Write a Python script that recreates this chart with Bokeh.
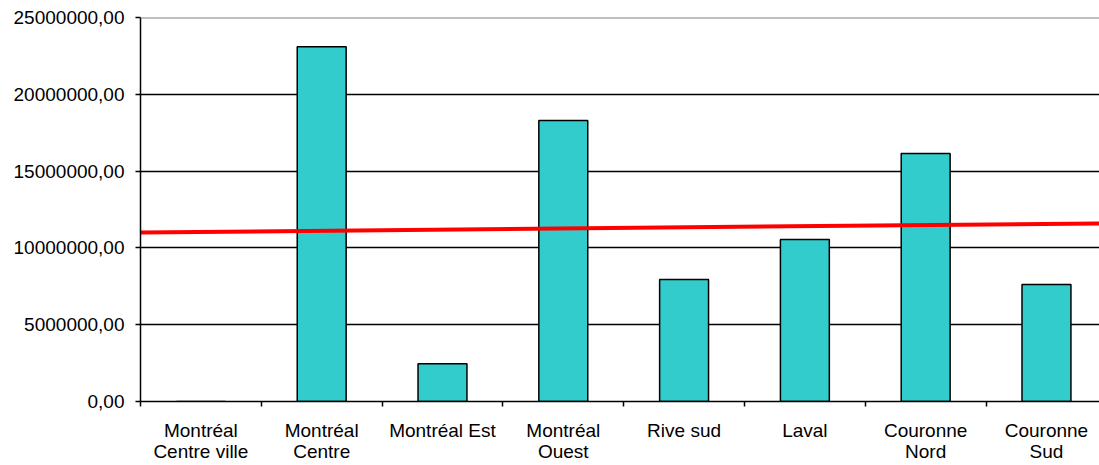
from bokeh.plotting import figure
from bokeh.models import Range1d, FixedTicker, Span
from bokeh.embed import file_html
from bokeh.resources import INLINE

# ---- data ----
categories = ["Montréal\nCentre ville", "Montréal\nCentre", "Montréal Est", "Montréal\nOuest",
              "Rive sud", "Laval", "Couronne\nNord", "Couronne\nSud"]
values = [0, 23100000, 2450000, 18300000, 7950000, 10550000, 16150000, 7620000]
trend_x = [0, 8]
trend_y = [11000000, 11600000]
y_ticks = [0, 5000000, 10000000, 15000000, 20000000, 25000000]
y_tick_labels = ["0,00", "5000000,00", "10000000,00", "15000000,00", "20000000,00", "25000000,00"]

FONT = "Liberation Sans"

p = figure(frame_width=959, frame_height=384, output_backend="svg", toolbar_location=None,
           x_range=Range1d(0, 7.939), y_range=Range1d(0, 25000000),
           min_border_left=140, min_border_right=0, min_border_top=17, min_border_bottom=10)
p.background_fill_color = "white"
p.border_fill_color = "white"
p.outline_line_color = None

centers = [i + 0.5 for i in range(len(categories))]
p.vbar(x=centers, top=values, width=0.405, fill_color="#33CCCC",
       line_color="black", line_width=1.5)

p.line(trend_x, trend_y, line_color="#FF0000", line_width=4)

# grid
p.xgrid.visible = False
p.ygrid.ticker = FixedTicker(ticks=y_ticks[1:-1])
p.ygrid.grid_line_color = "black"
p.ygrid.grid_line_width = 1.4
p.ygrid.level = "underlay"
top_line = Span(location=y_ticks[-1], dimension="width", line_color="#808080", line_width=2)
p.add_layout(top_line)

# y axis
p.yaxis.ticker = FixedTicker(ticks=y_ticks)
p.yaxis.major_label_overrides = {t: l for t, l in zip(y_ticks, y_tick_labels)}
p.yaxis.minor_tick_line_color = None
p.yaxis.major_tick_in = 0
p.yaxis.major_tick_out = 5
p.yaxis.axis_line_color = "black"
p.yaxis.axis_line_width = 1.5
p.yaxis.major_tick_line_width = 1.5
p.yaxis.major_label_standoff = 11
p.yaxis.major_label_text_font = FONT
p.yaxis.major_label_text_font_size = "19px"
p.yaxis.major_label_text_color = "black"

# x axis: labels at centres, ticks at category boundaries
p.xaxis.ticker = FixedTicker(ticks=centers, minor_ticks=list(range(len(categories) + 1)))
p.xaxis.major_label_overrides = {c: l for c, l in zip(centers, categories)}
p.xaxis.major_tick_in = 0
p.xaxis.major_tick_out = 0
p.xaxis.minor_tick_in = 0
p.xaxis.minor_tick_out = 5
p.xaxis.minor_tick_line_color = "black"
p.xaxis.minor_tick_line_width = 1.5
p.xaxis.axis_line_color = "black"
p.xaxis.axis_line_width = 1.5
p.xaxis.major_label_standoff = 13
p.xaxis.major_label_text_font = FONT
p.xaxis.major_label_text_font_size = "19px"
p.xaxis.major_label_text_color = "black"
p.xaxis.major_label_text_line_height = 1.03
p.xaxis.major_label_text_align = "center"

open("out.html", "w").write(file_html(p, INLINE))
